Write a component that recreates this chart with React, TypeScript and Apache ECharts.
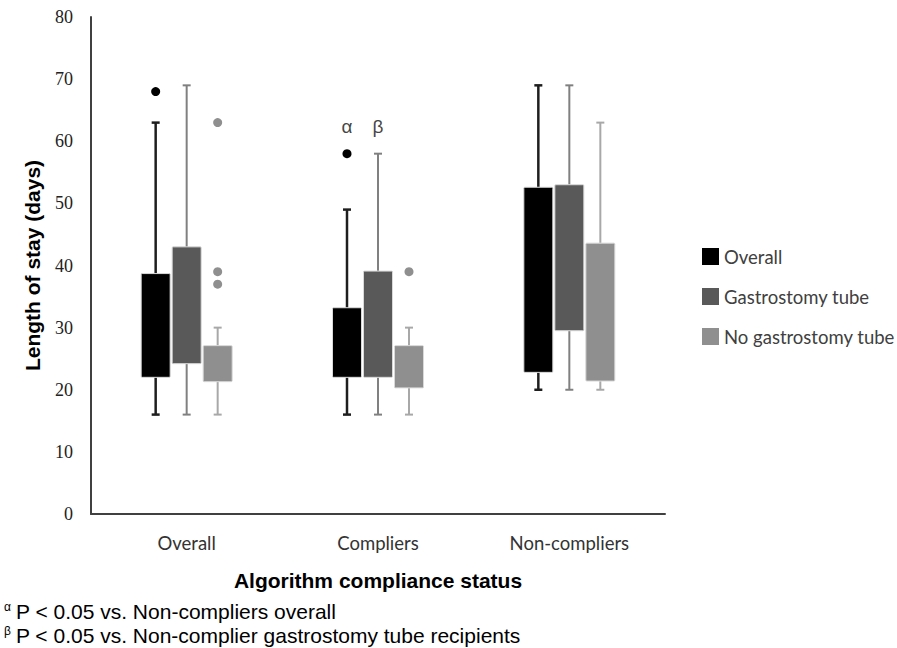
import React, { useEffect, useRef } from "react";
import * as echarts from "echarts";

const categories = ["Overall", "Compliers", "Non-compliers"];
const seriesNames = ["Overall", "Gastrostomy tube", "No gastrostomy tube"];

// [min, q1, q3, max] per category
const overallBox = [
  [16, 22, 38.7, 63],
  [16, 22, 33.2, 49],
  [20, 22.8, 52.6, 69],
];
const gtubeBox = [
  [16, 24.2, 43, 69],
  [16, 22, 39.1, 58],
  [20, 29.5, 53, 69],
];
const noGtubeBox = [
  [16, 21.3, 27.1, 30],
  [16, 20.3, 27.1, 30],
  [20, 21.4, 43.6, 63],
];

// [categoryIndex, value]
const overallOutliers = [
  [0, 68],
  [1, 58],
];
const gtubeOutliers: number[][] = [];
const noGtubeOutliers = [
  [0, 63],
  [0, 39],
  [0, 37],
  [1, 39],
];

// significance markers [categoryIndex, value, text, seriesIndex]
const annotations: [number, number, string, number][] = [
  [1, 62.3, "α", 0],
  [1, 62.3, "β", 1],
];

const yTicks = { min: 0, max: 80, interval: 10 };

const boxColors = ["#000000", "#595959", "#8f8f8f"];
const whiskerColors = ["#1e1e1e", "#808080", "#a8a8a8"];
const whiskerWidths = [2.5, 2, 2];
const offsets = [-31, 0, 31];
const BOX_W = 29;
const CAP_W = 8;

export default function App() {
  const ref = useRef<HTMLDivElement>(null);
  useEffect(() => {
    if (!ref.current) return;
    const chart = echarts.init(ref.current, null, { renderer: "svg" });

    const boxSets = [overallBox, gtubeBox, noGtubeBox];
    const outlierSets = [overallOutliers, gtubeOutliers, noGtubeOutliers];

    const boxSeries = boxSets.map((set, s) => ({
      type: "custom",
      name: seriesNames[s],
      color: boxColors[s],
      itemStyle: { color: boxColors[s] },
      encode: { x: 0, y: [1, 2, 3, 4] },
      data: set.map((v, i) => [i, ...v]),
      renderItem: (params: any, api: any) => {
        const cat = api.value(0);
        const mn = api.value(1);
        const q1 = api.value(2);
        const q3 = api.value(3);
        const mx = api.value(4);
        const [cx, yMin] = api.coord([cat, mn]);
        const yQ1 = api.coord([cat, q1])[1];
        const yQ3 = api.coord([cat, q3])[1];
        const yMax = api.coord([cat, mx])[1];
        const x = cx + offsets[s];
        const ls = { stroke: whiskerColors[s], lineWidth: whiskerWidths[s] };
        return {
          type: "group",
          children: [
            { type: "line", shape: { x1: x, y1: yMax, x2: x, y2: yQ3 }, style: ls },
            { type: "line", shape: { x1: x, y1: yQ1, x2: x, y2: yMin }, style: ls },
            { type: "line", shape: { x1: x - CAP_W / 2, y1: yMax, x2: x + CAP_W / 2, y2: yMax }, style: ls },
            { type: "line", shape: { x1: x - CAP_W / 2, y1: yMin, x2: x + CAP_W / 2, y2: yMin }, style: ls },
            {
              type: "rect",
              shape: { x: x - BOX_W / 2, y: yQ3, width: BOX_W, height: yQ1 - yQ3, r: 1 },
              style: { fill: boxColors[s], stroke: "#d9d9d9", lineWidth: 1 },
            },
          ],
        };
      },
    }));

    const outlierSeries = outlierSets.map((set, s) => ({
      type: "scatter",
      name: seriesNames[s],
      symbol: "circle",
      symbolSize: 9,
      symbolOffset: [offsets[s], 0],
      itemStyle: { color: s === 0 ? "#000000" : "#8f8f8f", opacity: 1 },
      data: set,
    }));

    const annotationSeries = {
      type: "scatter",
      name: "annotations",
      symbolSize: 0,
      data: annotations.map((a) => ({
        value: [a[0], a[1]],
        label: {
          show: true,
          formatter: a[2],
          position: "inside",
          offset: [offsets[a[3]], 0],
          fontFamily: "Liberation Sans",
          fontSize: 19,
          color: "#111",
        },
      })),
    };

    const footRich = {
      s: { fontFamily: "Liberation Sans", fontSize: 12, color: "#222", verticalAlign: "top", padding: [0, 5, 8, 0] },
      t: { fontFamily: "Liberation Sans", fontSize: 21, color: "#222" },
    };

    chart.setOption({
      animation: false,
      backgroundColor: "#ffffff",
      grid: { left: 91, right: 232, top: 17, bottom: 134, containLabel: false },
      legend: {
        data: seriesNames.map((n) => ({ name: n, icon: "rect" })),
        orient: "vertical",
        left: 697,
        top: 242,
        itemWidth: 17,
        itemHeight: 17,
        itemGap: 21,
        textStyle: {
          fontFamily: "Lato",
          fontSize: 18.5,
          color: "#404040",
          lineHeight: 17,
        },
      },
      xAxis: {
        type: "category",
        data: categories,
        boundaryGap: true,
        axisLine: { lineStyle: { color: "#404040", width: 2 } },
        axisTick: { show: false },
        axisLabel: {
          fontFamily: "Lato",
          fontSize: 18.5,
          color: "#333",
          margin: 19,
        },
        name: "Algorithm compliance status",
        nameLocation: "middle",
        nameGap: 56,
        nameTextStyle: {
          fontFamily: "Liberation Sans",
          fontWeight: "bold",
          fontSize: 21,
          color: "#000",
        },
      },
      yAxis: {
        type: "value",
        min: yTicks.min,
        max: yTicks.max,
        interval: yTicks.interval,
        splitLine: { show: false },
        axisLine: { show: true, lineStyle: { color: "#404040", width: 2 } },
        axisTick: { show: false },
        axisLabel: {
          fontFamily: "Liberation Serif",
          fontSize: 18,
          color: "#222",
          margin: 18,
        },
        name: "Length of stay (days)",
        nameLocation: "middle",
        nameRotate: 90,
        nameGap: 48,
        nameTextStyle: {
          fontFamily: "Liberation Sans",
          fontWeight: "bold",
          fontSize: 21,
          color: "#000",
        },
      },
      graphic: [
        {
          type: "text",
          left: 4,
          top: 601,
          style: {
            text: "{s|α}{t|P < 0.05 vs. Non-compliers overall}",
            rich: footRich,
          },
        },
        {
          type: "text",
          left: 4,
          top: 625,
          style: {
            text: "{s|β}{t|P < 0.05 vs. Non-complier gastrostomy tube recipients}",
            rich: footRich,
          },
        },
      ],
      series: [...boxSeries, ...outlierSeries, annotationSeries],
    } as any);

    return () => chart.dispose();
  }, []);

  return <div ref={ref} style={{ width: 897, height: 648, position: "absolute", left: 0, top: 0 }} />;
}
